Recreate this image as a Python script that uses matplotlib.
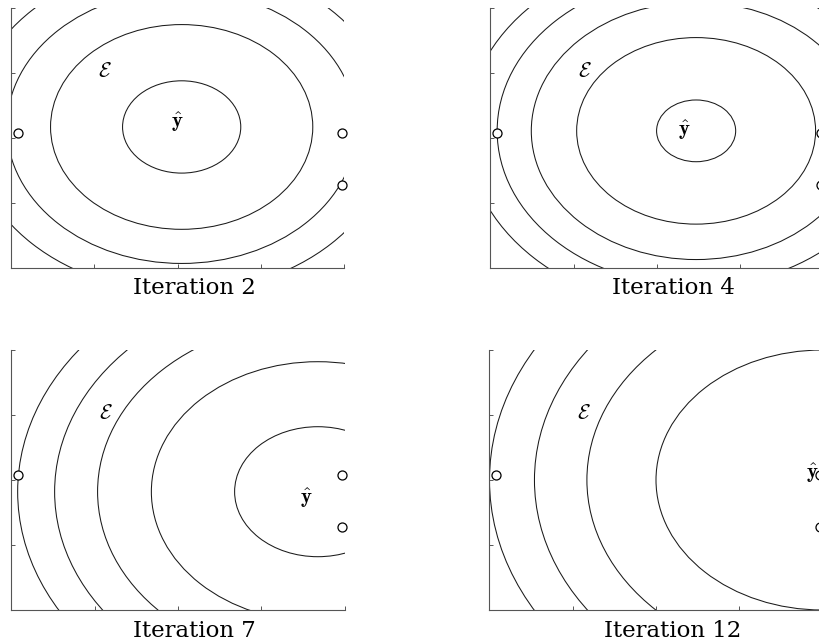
import matplotlib.pyplot as plt
from matplotlib.patches import Circle

plt.rcParams['mathtext.fontset'] = 'cm'

# one entry per panel
titles = ["Iteration 2", "Iteration 4", "Iteration 7", "Iteration 12"]
center_x = [2.05, 2.47, 3.68, 4.0]
center_y = [2.17, 2.11, 1.82, 2.0]
radii = [
    [0.71, 1.575, 2.1, 2.54],
    [0.475, 1.435, 1.98, 2.39, 2.76],
    [1.0, 2.0, 2.646, 3.162, 3.606],
    [2.0, 2.83, 3.46, 4.0],
]
yhat_x = [2.0, 2.33, 3.54, 3.88]
yhat_y = [2.25, 2.12, 1.72, 2.1]

# observed points (same in every panel)
points_x = [0.08, 3.97, 3.97]
points_y = [2.08, 2.08, 1.28]

eps_x, eps_y = 1.13, 3.03

W, H = 820, 644
boxes = [
    (11, 8, 333, 260),
    (490.5, 8, 333, 260),
    (11.5, 350, 333, 260),
    (489.5, 350, 333, 260),
]
label_y = [-0.3, -0.3, -0.33, -0.33]

fig = plt.figure(figsize=(W / 100, H / 100), dpi=100)

for i in range(4):
    x0, y0, w, h = boxes[i]
    ax = fig.add_axes([x0 / W, 1 - (y0 + h) / H, w / W, h / H])
    ax.set_xlim(0, 4)
    ax.set_ylim(0, 4)

    for r in radii[i]:
        ax.add_patch(Circle((center_x[i], center_y[i]), r, fill=False,
                            ec='#1a1a1a', lw=0.75))

    ax.plot(points_x, points_y, 'o', ms=6.5, mfc='white', mec='black',
            mew=0.9, clip_on=False, zorder=5)

    ax.text(eps_x, eps_y, r'$\mathcal{E}$', fontsize=15,
            ha='center', va='center')
    ax.text(yhat_x[i], yhat_y[i], r'$\hat{\mathbf{y}}$', fontsize=15,
            ha='center', va='center', zorder=6)

    ax.text(2.2, label_y[i], titles[i], family='DejaVu Serif',
            fontsize=16.5, ha='center', va='center', clip_on=False)

    for side in ['top', 'right']:
        ax.spines[side].set_visible(False)
    for side in ['left', 'bottom']:
        ax.spines[side].set_color('#555555')
        ax.spines[side].set_linewidth(0.8)

    ax.set_xticks([0, 1, 2, 3, 4])
    ax.set_yticks([0, 1, 2, 3, 4])
    ax.tick_params(direction='in', length=3, width=0.7, color='#555555',
                   labelbottom=False, labelleft=False)

fig.savefig("out.png", dpi=100)
